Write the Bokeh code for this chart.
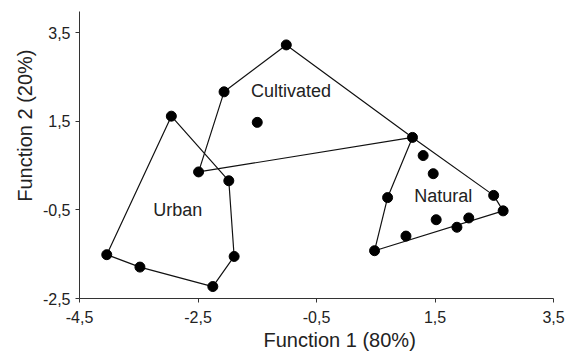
from bokeh.plotting import figure
from bokeh.models import FixedTicker, Label, Range1d, Title
from bokeh.embed import file_html
from bokeh.resources import INLINE

# ---- data ----
urban_x = [-2.95, -4.04, -3.48, -2.25, -1.89, -1.98]
urban_y = [1.62, -1.51, -1.79, -2.23, -1.55, 0.16]
urban_hull = [0, 1, 2, 3, 4, 5]

cult_x = [-2.49, -2.06, -1.01, 1.12, -1.50]
cult_y = [0.36, 2.17, 3.23, 1.14, 1.48]
cult_hull = [0, 1, 2, 3]

nat_x = [1.30, 1.47, 2.49, 2.65, 0.70, 0.48, 1.01, 1.52, 1.87, 2.07]
nat_y = [0.73, 0.32, -0.17, -0.52, -0.22, -1.42, -1.09, -0.72, -0.89, -0.68]
# natural hull starts at the shared vertex (1.12, 1.14)
nat_hull_x = [1.12, 2.49, 2.65, 0.48, 0.70]
nat_hull_y = [1.14, -0.17, -0.52, -1.42, -0.22]

group_names = ["Cultivated", "Urban", "Natural"]
label_x = [-0.93, -2.84, 1.64]
label_y = [2.18, -0.49, -0.19]

ticks_x = [-4.5, -2.5, -0.5, 1.5, 3.5]
ticks_y = [-2.5, -0.5, 1.5, 3.5]
tick_text_x = ["-4,5", "-2,5", "-0,5", "1,5", "3,5"]
tick_text_y = ["-2,5", "-0,5", "1,5", "3,5"]

x_title = "Function 1 (80%)"
y_title = "Function 2 (20%)"

FONT = "Liberation Sans"

p = figure(width=569, height=352, output_backend="svg", toolbar_location=None,
           x_range=Range1d(-4.5, 3.5), y_range=Range1d(-2.5, 3.985),
           min_border_left=79, min_border_right=16, min_border_top=11,
           min_border_bottom=54)
p.outline_line_color = None
p.grid.grid_line_color = None
p.background_fill_color = "white"

def closed(xs, ys):
    return xs + [xs[0]], ys + [ys[0]]

ux, uy = closed([urban_x[i] for i in urban_hull], [urban_y[i] for i in urban_hull])
cx, cy = closed([cult_x[i] for i in cult_hull], [cult_y[i] for i in cult_hull])
nx, ny = closed(nat_hull_x, nat_hull_y)
for xs, ys in [(ux, uy), (cx, cy), (nx, ny)]:
    p.line(xs, ys, line_color="#111111", line_width=1.2)

p.scatter(urban_x + cult_x + nat_x, urban_y + cult_y + nat_y, size=10,
          fill_color="black", line_color="black")

for name, lx, ly in zip(group_names, label_x, label_y):
    p.add_layout(Label(x=lx, y=ly, text=name, text_align="center",
                       text_baseline="middle", text_font=FONT,
                       text_font_size="18px", text_color="#222222"))

for ax, ticks, texts in [(p.xaxis[0], ticks_x, tick_text_x), (p.yaxis[0], ticks_y, tick_text_y)]:
    ax.ticker = FixedTicker(ticks=ticks)
    ax.major_label_overrides = {t: s for t, s in zip(ticks, texts)}
    ax.minor_tick_line_color = None
    ax.major_tick_in = 0
    ax.major_tick_out = 4
    ax.axis_line_color = "#333333"
    ax.major_tick_line_color = "#333333"
    ax.major_label_text_font = FONT
    ax.major_label_text_font_size = "16px"
    ax.major_label_text_color = "#222222"
p.xaxis[0].major_label_standoff = 8
p.yaxis[0].major_label_standoff = 5

# axis titles as side titles (offset along the axis)
p.add_layout(Title(text=x_title, align="left", offset=184, standoff=2,
                   text_font=FONT, text_font_size="20px",
                   text_font_style="normal", text_color="#222222"), "below")
p.add_layout(Title(text=y_title, align="right", offset=38, standoff=8,
                   text_font=FONT, text_font_size="20px",
                   text_font_style="normal", text_color="#222222"), "left")

open("out.html", "w").write(file_html(p, INLINE))
